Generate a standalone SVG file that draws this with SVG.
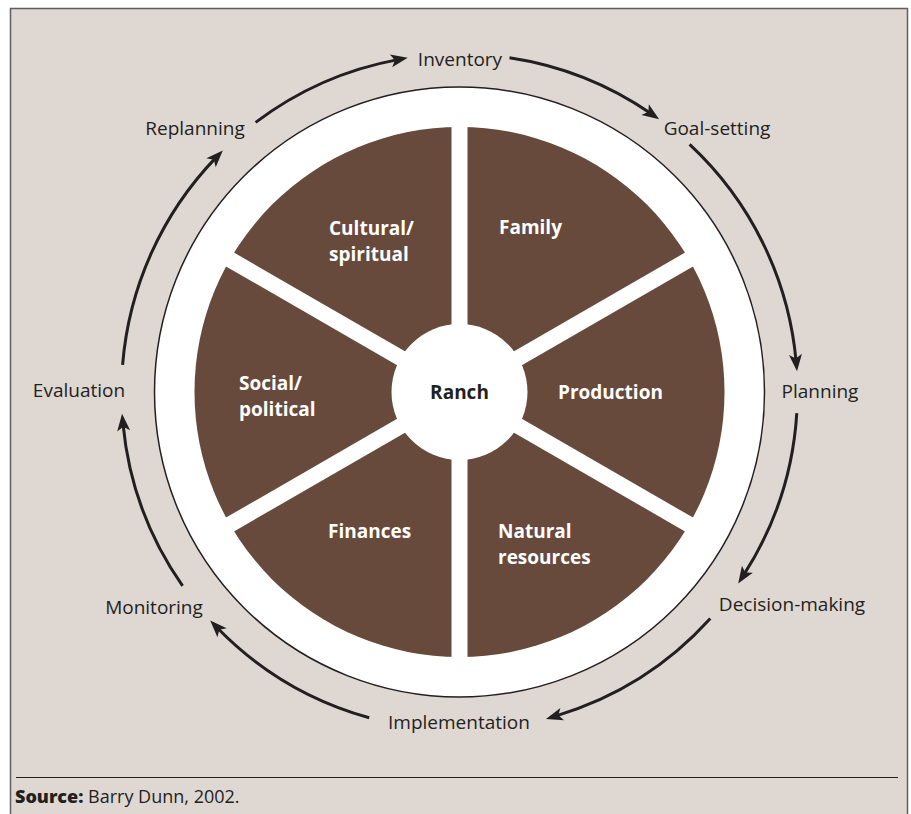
<svg xmlns="http://www.w3.org/2000/svg" width="911" height="814" viewBox="0 0 911 814">
  <style>
    .cycle { font-family: "Open Sans", "Noto Sans", sans-serif; font-size: 19px; fill: #231f20; text-anchor: middle; }
    .sector { font-family: "Open Sans", "Noto Sans", sans-serif; font-size: 19px; font-weight: bold; fill: #ffffff; }
    .arc { fill: none; stroke: #231f20; stroke-width: 3; marker-end: url(#head); }
    .spoke { stroke: #ffffff; stroke-width: 16; }
    .src { font-family: "Open Sans", "Noto Sans", sans-serif; font-size: 18px; fill: #231f20; }
  </style>
  <defs>
    <marker id="head" markerUnits="userSpaceOnUse" markerWidth="20" markerHeight="20" refX="0" refY="0" orient="auto" overflow="visible">
      <path d="M10,0 L-7,-6.5 L-3,0 L-7,6.5 Z" fill="#231f20"/>
    </marker>
  </defs>

  <!-- panel -->
  <rect x="10.5" y="8.5" width="897" height="812" fill="#dfd7d2" stroke="#5e5e5e" stroke-width="1.5"/>

  <!-- wheel -->
  <g id="wheel">
    <circle cx="459.5" cy="392" r="305" fill="#ffffff" stroke="#231f20" stroke-width="1.5"/>
    <circle cx="459.5" cy="392" r="265" fill="#674a3c"/>
    <line class="spoke" x1="459.5" y1="392" x2="459.5" y2="120"/>
    <line class="spoke" x1="459.5" y1="392" x2="459.5" y2="664"/>
    <line class="spoke" x1="459.5" y1="392" x2="695.1" y2="256"/>
    <line class="spoke" x1="459.5" y1="392" x2="695.1" y2="528"/>
    <line class="spoke" x1="459.5" y1="392" x2="223.9" y2="256"/>
    <line class="spoke" x1="459.5" y1="392" x2="223.9" y2="528"/>
  </g>

  <g id="ranch">
    <circle cx="459.5" cy="392" r="68" fill="#ffffff"/>
    <text x="459.5" y="399" style="font-family: 'Open Sans', 'Noto Sans', sans-serif; font-size: 19px; font-weight: bold; fill: #231f20; text-anchor: middle;">Ranch</text>
  </g>
  <g id="family"><text class="sector" x="499" y="234">Family</text></g>
  <g id="production"><text class="sector" x="558" y="399">Production</text></g>
  <g id="natural-resources"><text class="sector" x="498" y="538">Natural<tspan x="498" y="564">resources</tspan></text></g>
  <g id="finances"><text class="sector" x="328" y="538">Finances</text></g>
  <g id="social-political"><text class="sector" x="239" y="390">Social/<tspan x="239" y="416">political</tspan></text></g>
  <g id="cultural-spiritual"><text class="sector" x="329" y="235">Cultural/<tspan x="329" y="261">spiritual</tspan></text></g>

  <!-- management cycle stages -->
  <g id="inventory"><text class="cycle" x="460" y="66">Inventory</text></g>
  <g id="goal-setting"><text class="cycle" x="717" y="135">Goal-setting</text></g>
  <g id="planning"><text class="cycle" x="820" y="398">Planning</text></g>
  <g id="decision-making"><text class="cycle" x="792" y="611">Decision-making</text></g>
  <g id="implementation"><text class="cycle" x="459" y="729">Implementation</text></g>
  <g id="monitoring"><text class="cycle" x="154" y="614">Monitoring</text></g>
  <g id="evaluation"><text class="cycle" x="79" y="397">Evaluation</text></g>
  <g id="replanning"><text class="cycle" x="195" y="135">Replanning</text></g>

  <!-- connectors: clockwise arcs on r=338 -->
  <g id="connectors">
    <path class="arc" d="M255.6,122.4 A338,338 0 0 1 397.9,59.6"/>
    <path class="arc" d="M509.5,57.7 A338,338 0 0 1 650.9,113.5"/>
    <path class="arc" d="M689.6,144.4 A338,338 0 0 1 796.1,361.4"/>
    <path class="arc" d="M796.8,413.2 A338,338 0 0 1 743.6,575.1"/>
    <path class="arc" d="M710.3,618.6 A338,338 0 0 1 555.5,716.1"/>
    <path class="arc" d="M369.2,717.7 A338,338 0 0 1 217.2,627.7"/>
    <path class="arc" d="M182.6,585.9 A338,338 0 0 1 123.0,423.8"/>
    <path class="arc" d="M122.6,364.9 A338,338 0 0 1 215.9,157.6"/>
  </g>

  <!-- source note -->
  <line x1="16" y1="777.5" x2="898" y2="777.5" stroke="#231f20" stroke-width="1.2"/>
  <text class="src" x="15" y="803"><tspan font-weight="800">Source:</tspan> Barry Dunn, 2002.</text>
</svg>
